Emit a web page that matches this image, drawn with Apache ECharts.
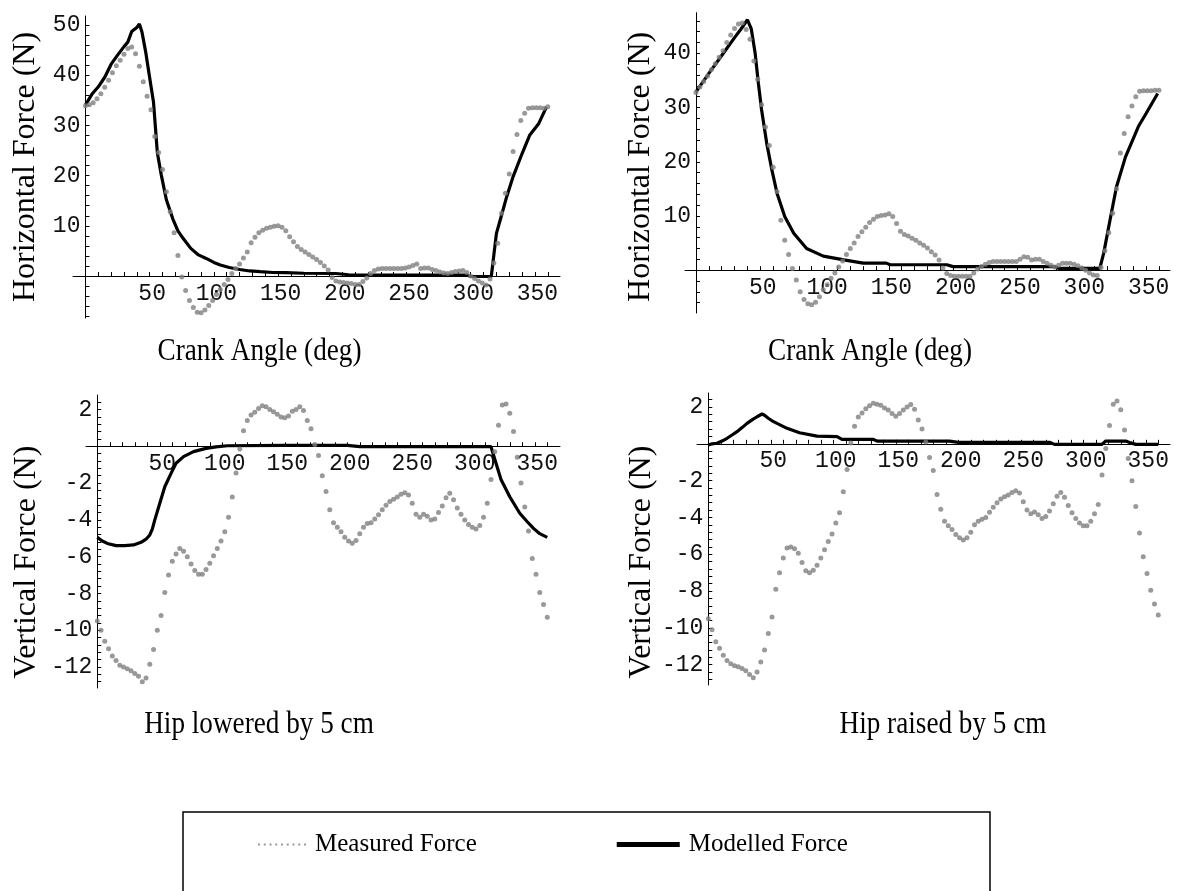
<!DOCTYPE html>
<html><head><meta charset="utf-8">
<script src="https://cdn.jsdelivr.net/npm/echarts@6/dist/echarts.min.js"></script>
<style>html,body{margin:0;padding:0;background:#fff}#c{width:1185px;height:891px}</style>
</head><body><div id="c"></div>
<script>
// crank angles (deg) at which the measured force was sampled
const measuredAngles = [0,3,6,9,12,15,18,21,24,27,30,33,36,39,42,45,48,51,54,57,60,63,66,69,72,75,78,81,84,87,90,93,96,99,102,105,108,111,114,117,120,123,126,129,132,135,138,141,144,147,150,153,156,159,162,165,168,171,174,177,180,183,186,189,192,195,198,201,204,207,210,213,216,219,222,225,228,231,234,237,240,243,246,249,252,255,258,261,264,267,270,273,276,279,282,285,288,291,294,297,300,303,306,309,312,315,318,321,324,327,330,333,336,339,342,345,348,351,354,357,360];

// Hip lowered by 5 cm - horizontal force (N)
const lowHorizMeasured = [33.9,34.1,34.5,35.3,36.3,37.6,39.0,40.5,41.9,43.0,
 44.2,45.3,45.6,44.3,41.8,38.7,35.8,33.1,27.8,24.6,
 21.2,16.8,12.8,8.6,4.1,-0.2,-2.9,-4.9,-6.3,-7.2,
 -7.3,-6.8,-5.9,-4.9,-3.7,-2.7,-1.7,-0.7,0.5,1.5,
 2.4,3.6,4.8,6.6,7.7,8.6,9.1,9.5,9.7,9.9,
 10.0,9.7,9.0,7.8,6.8,5.9,5.3,4.8,4.3,3.8,
 3.3,2.7,2.0,1.2,-0.3,-1.0,-1.2,-1.3,-1.4,-1.5,
 -1.7,-1.7,-1.1,-0.4,0.5,1.1,1.4,1.5,1.5,1.5,
 1.5,1.5,1.5,1.6,1.8,2.1,2.4,1.5,1.6,1.6,
 1.3,1.1,0.8,0.6,0.5,0.7,0.9,1.0,1.1,0.7,
 0.0,-0.5,-1.0,-1.4,-1.8,-0.6,2.6,6.5,12.5,16.5,
 20.3,24.8,28.2,31.0,32.4,33.4,33.5,33.5,33.5,33.4,
 33.7];
const lowHorizModelAngles = [0,5,10,15,20,25,30,33,36,40,42,44,47,50,53,56,59,63,68,72,76,82,88,94,100,105,112,120,128,136,146,156,170,195,205,220,250,280,297,300,310,316,318,320,323,328,333,340,346,353,359];
const lowHorizModel = [34.1,36.2,37.7,39.6,42.2,44.0,45.7,46.6,48.7,49.5,50.2,48.6,44.5,39.5,34.6,24.5,20.2,15.2,11.4,9.0,7.5,5.5,4.2,3.5,2.7,2.2,1.7,1.3,1.0,0.86,0.7,0.66,0.55,0.5,0.25,0.2,0.2,0.2,0.2,-0.1,-0.1,-0.1,4.2,8.5,11.2,15.8,19.8,24.4,28.1,30.4,33.7];

// Hip raised by 5 cm - horizontal force (N)
const highHorizMeasured = [32.8,33.8,34.8,35.8,37.0,38.1,39.3,40.5,42.0,43.4,
 44.6,45.4,45.6,44.4,42.6,38.6,35.2,30.5,26.4,23.0,
 19.0,14.5,9.2,5.5,2.9,0.3,-1.8,-4.0,-5.4,-6.2,
 -6.4,-5.9,-4.9,-3.6,-2.7,-1.5,-0.5,0.6,1.7,2.9,
 4.0,5.0,6.2,7.1,7.9,8.8,9.4,9.9,10.1,10.2,
 10.4,9.9,8.6,7.2,6.6,6.3,5.9,5.5,5.0,4.6,
 4.1,3.4,2.8,1.9,0.4,-0.6,-1.0,-1.1,-1.1,-1.1,
 -1.1,-1.1,-0.5,0.2,0.7,1.1,1.4,1.6,1.6,1.6,
 1.6,1.6,1.6,1.6,2.0,2.5,2.4,1.9,2.0,2.0,
 1.6,1.3,0.9,0.6,0.9,1.3,1.3,1.3,1.1,0.8,
 0.4,0.0,-0.5,-0.9,-1.0,0.5,3.6,6.9,10.5,15.0,
 21.6,25.2,28.3,30.3,32.0,33.0,33.1,33.1,33.1,33.2,
 33.2];
const highHorizModelAngles = [0,10,20,30,35,40,43,46,48.5,51,55,59,63,69,76,86,99,115,130,148,151,195,200,279,282,314,317,322,327,334,344,350,359];
const highHorizModel = [32.9,36.3,39.6,42.9,44.5,46.2,44.5,40.0,34.5,29.6,23.4,18.5,14.2,9.9,6.8,4.0,2.6,1.9,1.3,1.3,1.0,1.0,0.65,0.65,0.35,0.35,3.1,9.3,15.4,20.9,26.5,28.9,32.6];

// Hip lowered by 5 cm - vertical force (N)
const lowVertMeasured = [-9.5,-10.0,-10.6,-11.0,-11.4,-11.65,-11.9,-12.0,-12.1,-12.2,
 -12.35,-12.5,-12.8,-12.6,-11.85,-11.05,-10.0,-9.2,-7.95,-7.0,
 -6.25,-5.85,-5.55,-5.7,-6.0,-6.4,-6.75,-6.95,-6.95,-6.7,
 -6.36,-5.95,-5.55,-5.15,-4.65,-3.85,-2.75,-1.45,-0.15,0.85,
 1.4,1.7,1.85,2.05,2.2,2.15,2.0,1.88,1.75,1.6,
 1.55,1.65,1.9,2.0,2.15,1.95,1.4,0.95,0.1,-0.5,
 -1.6,-2.45,-3.45,-4.15,-4.4,-4.65,-4.95,-5.15,-5.27,-5.12,
 -4.75,-4.4,-4.2,-4.15,-3.95,-3.72,-3.45,-3.2,-3.0,-2.88,
 -2.75,-2.6,-2.52,-2.65,-3.1,-3.7,-3.85,-3.7,-3.8,-4.0,
 -3.95,-3.6,-3.25,-2.8,-2.55,-2.9,-3.35,-3.7,-4.0,-4.25,
 -4.4,-4.5,-4.3,-3.85,-3.1,-1.8,-0.3,1.15,2.25,2.3,
 1.8,0.8,-0.6,-2.0,-3.3,-4.6,-6.1,-6.95,-7.95,-8.6,
 -9.3];
const lowVertModelAngles = [0,4,8,15,22,29,35,39,42,44,46,50,54,59,63,69,77,87,95,104,150,200,210,315,319,323,330,338,344,349,354,360];
const lowVertModel = [-4.95,-5.15,-5.28,-5.4,-5.4,-5.36,-5.22,-5.05,-4.82,-4.5,-4.0,-3.1,-2.2,-1.47,-0.92,-0.56,-0.29,-0.11,-0.03,0.03,0.05,0.05,-0.02,-0.02,-0.92,-1.8,-2.74,-3.64,-4.1,-4.46,-4.75,-4.95];

// Hip raised by 5 cm - vertical force (N)
const highVertMeasured = [-9.5,-10.1,-10.75,-11.1,-11.48,-11.77,-11.95,-12.05,-12.11,-12.2,
 -12.32,-12.53,-12.7,-12.4,-11.85,-11.2,-10.3,-9.4,-7.9,-7.0,
 -6.2,-5.66,-5.6,-5.7,-5.95,-6.45,-6.9,-7.0,-6.87,-6.6,
 -6.2,-5.75,-5.3,-4.9,-4.3,-3.75,-2.6,-1.4,0.05,0.95,
 1.45,1.68,1.9,2.07,2.2,2.15,2.1,1.95,1.84,1.65,
 1.5,1.65,1.84,2.0,2.14,1.88,1.29,0.8,0.1,-0.75,
 -1.45,-2.75,-3.55,-4.2,-4.45,-4.65,-4.92,-5.1,-5.23,-5.1,
 -4.8,-4.4,-4.2,-4.1,-4.0,-3.72,-3.45,-3.2,-3.0,-2.87,
 -2.78,-2.65,-2.55,-2.67,-3.15,-3.6,-3.8,-3.7,-3.85,-4.05,
 -3.95,-3.65,-3.25,-2.85,-2.65,-2.9,-3.35,-3.75,-4.05,-4.3,
 -4.45,-4.45,-4.2,-3.8,-3.3,-1.7,-0.25,1.0,2.15,2.33,
 1.85,0.75,-0.8,-2.0,-3.4,-4.85,-6.14,-7.05,-7.95,-8.7,
 -9.3];
const highVertModelAngles = [0,3,7,11,15,19,23,27,31,35,39,43,45,48,51,55,63,73,87,103,107,132,135,193,200,273,277,315,318,334,338,342,360];
const highVertModel = [-0.07,0.0,0.03,0.15,0.3,0.48,0.66,0.88,1.11,1.3,1.47,1.62,1.55,1.39,1.25,1.11,0.84,0.6,0.42,0.39,0.24,0.24,0.15,0.15,0.08,0.08,-0.03,-0.03,0.15,0.15,0.05,-0.03,-0.03];

// tick marks and tick labels
const xTickLabels = [50,100,150,200,250,300,350];
const xTicks = [10,20,30,40,50,60,70,80,90,100,110,120,130,140,150,160,170,180,190,200,210,220,230,240,250,260,270,280,290,300,310,320,330,340,350,360];
const lowHorizYLabels = [10,20,30,40,50];
const lowHorizYTicks = [-8,-6,-4,-2,2,4,6,8,10,12,14,16,18,20,22,24,26,28,30,32,34,36,38,40,42,44,46,48,50];
const highHorizYLabels = [10,20,30,40];
const highHorizYTicks = [-6,-4,-2,2,4,6,8,10,12,14,16,18,20,22,24,26,28,30,32,34,36,38,40,42,44,46];
const vertYLabels = [2,-2,-4,-6,-8,-10,-12];
const vertYTicks = [-12.8,-12.4,-12,-11.6,-11.2,-10.8,-10.4,-10,-9.6,-9.2,-8.8,-8.4,-8,-7.6,-7.2,-6.8,-6.4,-6,-5.6,-5.2,-4.8,-4.4,-4,-3.6,-3.2,-2.8,-2.4,-2,-1.6,-1.2,-0.8,-0.4,0.4,0.8,1.2,1.6,2,2.4];

const xTitle = 'Crank Angle (deg)';
const yTitleH = 'Horizontal Force (N)';
const yTitleV = 'Vertical Force (N)';
const captions = ['Hip lowered by 5 cm', 'Hip raised by 5 cm'];
const seriesNames = ['Measured Force', 'Modelled Force'];

function pairs(xs, ys) { return xs.map((x, i) => [x, ys[i]]); }

const MONO = 'Liberation Mono';
const SERIF = 'Liberation Serif';

// panel layout: grid box and axis extents (the axes cross at the origin)
const panels = [
  { left: 73,  top: 16,   width: 487, height: 302,   xmin: -9.7,  xmax: 369.5, ymin: -8.37,  ymax: 51.8 },
  { left: 685, top: 12.7, width: 485, height: 300.3, xmin: -8.55, xmax: 368.6, ymin: -7.9,   ymax: 47.5 },
  { left: 86,  top: 395,  width: 474, height: 293,   xmin: -9.04, xmax: 370.2, ymin: -13.14, ymax: 2.79 },
  { left: 697, top: 393,  width: 473, height: 292,   xmin: -9.04, xmax: 369.4, ymin: -13.1,  ymax: 2.76 }
];

function xAxisCfg(i) {
  const p = panels[i];
  return {
    type: 'value', gridIndex: i, min: p.xmin, max: p.xmax, position: 'bottom',
    offset: -p.height * (0 - p.ymin) / (p.ymax - p.ymin),
    axisLine: { show: true, onZero: false, lineStyle: { color: '#000', width: 1 } },
    axisTick: { show: true, inside: true, length: 4, customValues: xTicks, lineStyle: { color: '#000', width: 1 } },
    axisLabel: { customValues: xTickLabels, fontFamily: MONO, fontSize: 23, color: '#111', margin: 6, padding: [0, 0, 0, 5] },
    splitLine: { show: false }
  };
}
function yAxisCfg(i, labels, ticks, name, gap, shift) {
  const p = panels[i];
  return {
    type: 'value', gridIndex: i, min: p.ymin, max: p.ymax, position: 'left',
    offset: -p.width * (0 - p.xmin) / (p.xmax - p.xmin),
    axisLine: { show: true, onZero: false, lineStyle: { color: '#000', width: 1 } },
    axisTick: { show: true, inside: true, length: 4, customValues: ticks, lineStyle: { color: '#000', width: 1 } },
    axisLabel: { customValues: labels, fontFamily: MONO, fontSize: 23, color: '#111', margin: 5 },
    splitLine: { show: false },
    name: name, nameLocation: 'middle', nameRotate: 90, nameGap: gap, nameMoveOverlap: false,
    nameTextStyle: { fontFamily: SERIF, fontSize: 32, color: '#000', padding: [0, shift, 0, 0] }
  };
}
function modelSeries(i, xs, ys) {
  return { name: seriesNames[1], type: 'line', xAxisIndex: i, yAxisIndex: i, data: pairs(xs, ys),
    symbol: 'none', showSymbol: false, lineStyle: { color: '#000', width: 3.2 }, itemStyle: { color: '#000' }, z: 2 };
}
function measSeries(i, ys) {
  return { name: seriesNames[0], type: 'scatter', xAxisIndex: i, yAxisIndex: i, data: pairs(measuredAngles, ys),
    symbol: 'circle', symbolSize: 5, itemStyle: { color: '#808080' }, z: 3 };
}
function caption(text, x, y) {
  return { type: 'text', x: x, y: y, scaleX: 0.85, silent: true,
    style: { text: text, font: '32px "Liberation Serif"', fill: '#000', align: 'center', verticalAlign: 'middle' } };
}

// dotted legend marker (invisible move-to points fix its 63x5 box)
const dotIcon = 'path://M0,0M63,5M15,1.5h2v2h-2zM20.75,1.5h2v2h-2zM26.5,1.5h2v2h-2zM32.25,1.5h2v2h-2zM38,1.5h2v2h-2zM43.75,1.5h2v2h-2zM49.5,1.5h2v2h-2zM55.25,1.5h2v2h-2zM61,1.5h2v2h-2z';

const chart = echarts.init(document.getElementById('c'), null, { renderer: 'canvas' });
chart.setOption({
  animation: false,
  backgroundColor: '#fff',
  grid: panels.map(p => ({ left: p.left, top: p.top, width: p.width, height: p.height, outerBoundsMode: 'none' })),
  xAxis: [ xAxisCfg(0), xAxisCfg(1), xAxisCfg(2), xAxisCfg(3) ],
  yAxis: [
    yAxisCfg(0, lowHorizYLabels, lowHorizYTicks, yTitleH, 44, 0),
    yAxisCfg(1, highHorizYLabels, highHorizYTicks, yTitleH, 39, 8),
    yAxisCfg(2, vertYLabels, vertYTicks, yTitleV, 55, 41),
    yAxisCfg(3, vertYLabels, vertYTicks, yTitleV, 51, 46)
  ],
  legend: {
    left: 243, top: 832, padding: 0, itemWidth: 63, itemHeight: 5, itemGap: 140, selectedMode: false,
    textStyle: { fontFamily: SERIF, fontSize: 25, color: '#000', padding: [0, 0, 0, 4] },
    data: [ { name: seriesNames[0], icon: dotIcon }, { name: seriesNames[1], icon: 'rect' } ]
  },
  graphic: [
    { type: 'rect', shape: { x: 183, y: 812, width: 807, height: 120 }, style: { fill: 'none', stroke: '#000', lineWidth: 1.5 }, silent: true },
    caption(xTitle, 259.5, 352),
    caption(xTitle, 870, 352),
    caption(captions[0], 259, 725),
    caption(captions[1], 943, 725)
  ],
  series: [
    modelSeries(0, lowHorizModelAngles, lowHorizModel), measSeries(0, lowHorizMeasured),
    modelSeries(1, highHorizModelAngles, highHorizModel), measSeries(1, highHorizMeasured),
    modelSeries(2, lowVertModelAngles, lowVertModel), measSeries(2, lowVertMeasured),
    modelSeries(3, highVertModelAngles, highVertModel), measSeries(3, highVertMeasured)
  ]
});
</script></body></html>
